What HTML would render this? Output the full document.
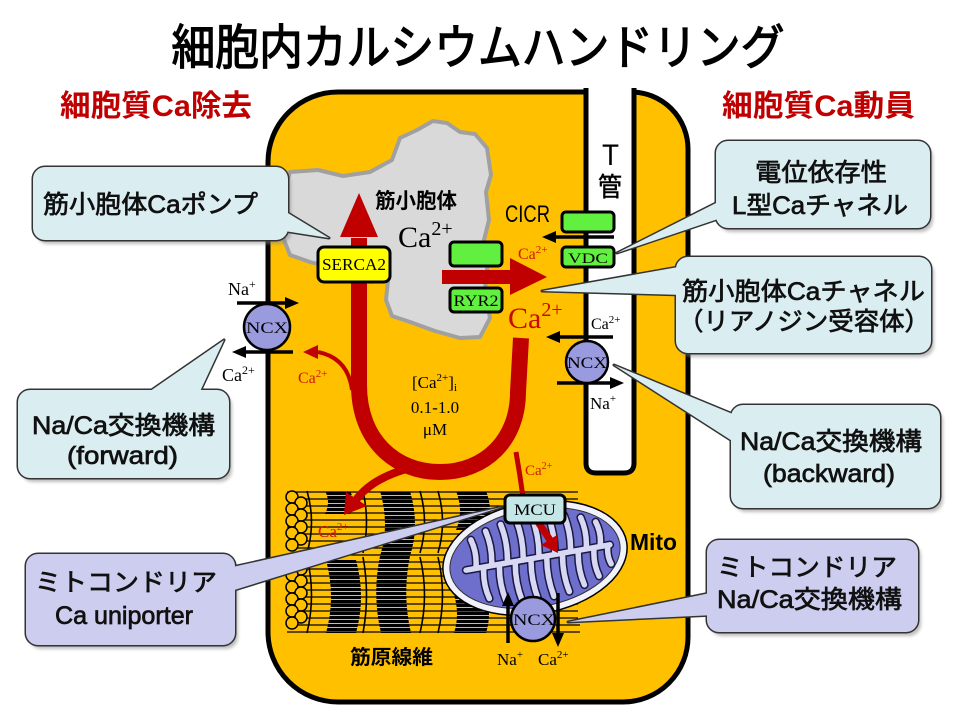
<!DOCTYPE html>
<html><head><meta charset="utf-8"><style>
html,body{margin:0;padding:0;background:#fff;}
svg{display:block;}
.cj{font-family:"Liberation Sans","Noto Sans CJK JP",sans-serif;}
.sf{font-family:"Liberation Serif",serif;}
</style></head><body>
<svg width="960" height="720" viewBox="0 0 960 720" xmlns="http://www.w3.org/2000/svg">
<defs>
<pattern id="st" width="20" height="4" patternUnits="userSpaceOnUse"><rect width="20" height="3" fill="#000"/></pattern>
<filter id="sh" x="-10%" y="-10%" width="130%" height="140%"><feGaussianBlur stdDeviation="1.5"/></filter>
<clipPath id="mc"><ellipse cx="0" cy="0" rx="86" ry="49"/></clipPath>
</defs>
<rect width="960" height="720" fill="#fff"/>

<!-- Title -->
<text x="478" y="64" font-size="48" text-anchor="middle" textLength="613" lengthAdjust="spacingAndGlyphs" class="cj" fill="#000" stroke="#000" stroke-width="1.3">細胞内カルシウムハンドリング</text>
<text x="60" y="116" font-size="30" font-weight="bold" fill="#C00000" class="cj" textLength="192" lengthAdjust="spacingAndGlyphs">細胞質Ca除去</text>
<text x="722" y="116" font-size="30" font-weight="bold" fill="#C00000" class="cj" textLength="193" lengthAdjust="spacingAndGlyphs">細胞質Ca動員</text>

<!-- Cell -->
<path d="M586 92 L338 92 A70 70 0 0 0 268 162 L268 632 A70 70 0 0 0 338 702 L623 702 A65 65 0 0 0 688 637 L688 149 A57 57 0 0 0 631 92 Z" fill="#FFC000" stroke="#000" stroke-width="5"/>
<!-- T tubule -->
<path d="M586 88 L586 463 Q586 473 596 473 L624 473 Q634 473 634 463 L634 88" fill="#fff" stroke="#000" stroke-width="5"/>
<rect x="589" y="80" width="42" height="14" fill="#fff"/>
<text x="602" y="165" font-size="30" class="cj" textLength="17" lengthAdjust="spacingAndGlyphs">T</text>
<text x="598" y="196" font-size="26" class="cj" textLength="24" lengthAdjust="spacingAndGlyphs" stroke="#000" stroke-width="0.5">管</text>

<!-- SR -->
<path d="M290 172 L318 170 L343 176 L370 172 L392 160 L400 138 L417 130 L433 121 L447 123 L460 132 L475 134 L487 148 L491 175 L486 192 L489 220 L484 240 L488 260 L485 290 L490 318 L480 337 L460 338 L435 331 L410 322 L392 316 L386 300 L388 280 L370 282 L340 270 L310 262 L290 255 L284 240 L283 200 L286 185 Z" fill="#D9D9D9" stroke="#A0A0A0" stroke-width="4" stroke-linejoin="round"/>
<text x="375" y="208" font-size="21" font-weight="bold" class="cj" textLength="82" lengthAdjust="spacingAndGlyphs">筋小胞体</text>
<text x="398" y="247" font-size="30" font-family="Liberation Serif, serif">Ca<tspan font-size="20" dy="-12">2+</tspan></text>

<!-- Myofibrils -->
<g>
<g stroke="#000" stroke-width="1.2">
<line x1="287" y1="492" x2="578" y2="492"/><line x1="287" y1="499" x2="578" y2="499"/><line x1="287" y1="506" x2="578" y2="506"/><line x1="287" y1="513" x2="578" y2="513"/><line x1="287" y1="520" x2="578" y2="520"/><line x1="287" y1="527" x2="578" y2="527"/><line x1="287" y1="534" x2="578" y2="534"/><line x1="287" y1="541" x2="578" y2="541"/><line x1="287" y1="548" x2="578" y2="548"/><line x1="287" y1="555" x2="578" y2="555"/><line x1="287" y1="562" x2="578" y2="562"/><line x1="287" y1="569" x2="578" y2="569"/><line x1="287" y1="576" x2="578" y2="576"/><line x1="287" y1="583" x2="578" y2="583"/><line x1="287" y1="590" x2="578" y2="590"/><line x1="287" y1="597" x2="578" y2="597"/><line x1="287" y1="604" x2="578" y2="604"/><line x1="287" y1="611" x2="578" y2="611"/><line x1="287" y1="618" x2="578" y2="618"/><line x1="287" y1="625" x2="580" y2="625"/><line x1="287" y1="632" x2="580" y2="632"/>
</g>
<g fill="url(#st)">
<path d="M325 491 L350 491 Q356 502 350 514 L325 514 Q331 502 325 491Z"/>
<path d="M380 491 L410 491 Q420 525 410 556 Q402 595 411 633 L381 633 Q372 595 380 556 Q390 525 380 491Z"/>
<path d="M456 491 L486 491 Q494 511 486 530 L456 530 Q464 511 456 491Z"/>
<path d="M326 560 L356 560 Q366 597 356 633 L326 633 Q336 597 326 560Z"/>
<path d="M454 595 L486 595 Q492 614 486 633 L454 633 Q460 614 454 595Z"/>
</g>
<g stroke="#000" stroke-width="1.6" fill="none">
<path d="M307 491 Q316 522 307 553"/><path d="M307 557 Q316 595 307 633"/>
<path d="M363 491 Q370 522 363 553"/><path d="M363 557 Q370 595 363 633"/>
<path d="M420 491 Q429 522 420 553"/><path d="M420 557 Q429 595 420 633"/>
<path d="M438 491 Q447 522 438 553"/><path d="M438 557 Q447 595 438 633"/>
</g>
<g fill="#FFC000" stroke="#000" stroke-width="1.5">
<circle cx="292" cy="497" r="6"/><circle cx="301" cy="503" r="6"/><circle cx="292" cy="509" r="6"/><circle cx="301" cy="515" r="6"/><circle cx="292" cy="521" r="6"/><circle cx="301" cy="527" r="6"/><circle cx="292" cy="533" r="6"/><circle cx="301" cy="539" r="6"/><circle cx="292" cy="545" r="6"/>
<circle cx="292" cy="563" r="6"/><circle cx="301" cy="569" r="6"/><circle cx="292" cy="575" r="6"/><circle cx="301" cy="581" r="6"/><circle cx="292" cy="587" r="6"/><circle cx="301" cy="593" r="6"/><circle cx="292" cy="599" r="6"/><circle cx="301" cy="605" r="6"/><circle cx="292" cy="611" r="6"/><circle cx="301" cy="617" r="6"/><circle cx="292" cy="623" r="6"/>
</g>
</g>
<text x="350" y="664" font-size="20" font-weight="bold" class="cj" textLength="83" lengthAdjust="spacingAndGlyphs">筋原線維</text>

<!-- Mitochondrion -->
<g transform="translate(535 558) rotate(-10)">
<ellipse rx="93" ry="56" fill="#F2F2FC" stroke="#000" stroke-width="1.5"/>
<ellipse rx="86" ry="49" fill="#6E6ECC" stroke="#333" stroke-width="1"/>
<g clip-path="url(#mc)" fill="none" stroke-linecap="round">
<path d="M-70 0 L76 0 M-60 0 Q-56 -15 -60 -29 M-44 0 Q-40 -18 -44 -35 M-28 0 Q-24 -20 -28 -39 M-12 0 Q-8 -20 -12 -41 M4 0 Q8 -20 4 -41 M20 0 Q24 -20 20 -40 M36 0 Q40 -18 36 -37 M52 0 Q56 -16 52 -32 M66 0 Q70 -12 66 -25 M-52 0 Q-56 16 -52 32 M-36 0 Q-40 18 -36 37 M-20 0 Q-24 20 -20 40 M-4 0 Q-8 20 -4 41 M12 0 Q8 20 12 41 M28 0 Q24 20 28 39 M44 0 Q40 18 44 35 M60 0 Q56 15 60 29 M74 0 Q71 10 74 19" stroke="#1a1a40" stroke-width="8.5"/>
<path d="M-70 0 L76 0 M-60 0 Q-56 -15 -60 -29 M-44 0 Q-40 -18 -44 -35 M-28 0 Q-24 -20 -28 -39 M-12 0 Q-8 -20 -12 -41 M4 0 Q8 -20 4 -41 M20 0 Q24 -20 20 -40 M36 0 Q40 -18 36 -37 M52 0 Q56 -16 52 -32 M66 0 Q70 -12 66 -25 M-52 0 Q-56 16 -52 32 M-36 0 Q-40 18 -36 37 M-20 0 Q-24 20 -20 40 M-4 0 Q-8 20 -4 41 M12 0 Q8 20 12 41 M28 0 Q24 20 28 39 M44 0 Q40 18 44 35 M60 0 Q56 15 60 29 M74 0 Q71 10 74 19" stroke="#D8D8F4" stroke-width="5.5"/>
</g>
</g>
<text x="630" y="550" font-size="23" font-weight="bold" class="cj" textLength="47" lengthAdjust="spacingAndGlyphs">Mito</text>

<!-- Red arrows -->
<path d="M359 238 L359 385 C359 440 395 472 440 472 C485 472 518 440 518 392 L521 338" stroke="#C00000" stroke-width="16" fill="none"/>
<polygon points="340,237 378,237 359,193" fill="#C00000"/>
<path d="M410 468 Q372 478 356 500" stroke="#C00000" stroke-width="8" fill="none"/>
<polygon points="344,515 346,492 367,506" fill="#C00000"/>
<path d="M352 390 Q348 358 318 352" stroke="#C00000" stroke-width="4" fill="none"/>
<polygon points="303,352 318,345 318,359" fill="#C00000"/>
<rect x="442" y="270" width="70" height="14" fill="#C00000"/>
<polygon points="510,258 547,277 510,295" fill="#C00000"/>
<path d="M516 452 Q520 475 523 497" stroke="#C00000" stroke-width="5" fill="none"/>
<path d="M538 522 L550 540" stroke="#C00000" stroke-width="7" fill="none"/>
<polygon points="558,553 541,545 557,535" fill="#C00000"/>

<!-- MCU -->
<rect x="505" y="495" width="60" height="28" rx="5" fill="#C4E6E6" stroke="#000" stroke-width="3"/>
<text x="535" y="515" font-size="16" font-family="Liberation Serif, serif" text-anchor="middle" textLength="42" lengthAdjust="spacingAndGlyphs">MCU</text>

<!-- SERCA2 -->
<rect x="318" y="247" width="72" height="35" rx="6" fill="#FFFF00" stroke="#000" stroke-width="3"/>
<text x="354" y="270" font-size="17" font-family="Liberation Serif, serif" text-anchor="middle" textLength="64" lengthAdjust="spacingAndGlyphs">SERCA2</text>

<!-- Green boxes -->
<rect x="450" y="242" width="52" height="24" rx="4" fill="#62F040" stroke="#000" stroke-width="3"/>
<rect x="450" y="288" width="52" height="24" rx="4" fill="#62F040" stroke="#000" stroke-width="3"/>
<text x="476" y="306" font-size="16" font-family="Liberation Serif, serif" text-anchor="middle" textLength="45" lengthAdjust="spacingAndGlyphs">RYR2</text>
<rect x="562" y="212" width="52" height="20" rx="4" fill="#62F040" stroke="#000" stroke-width="3"/>
<rect x="562" y="247" width="52" height="20" rx="4" fill="#62F040" stroke="#000" stroke-width="3"/>
<text x="588" y="263" font-size="15" font-family="Liberation Serif, serif" text-anchor="middle" textLength="40" lengthAdjust="spacingAndGlyphs">VDC</text>
<text x="505" y="222" font-size="24" class="cj" textLength="45" lengthAdjust="spacingAndGlyphs">CICR</text>

<!-- Black arrows -->
<g stroke="#000" stroke-width="3.5">
<line x1="614" y1="237" x2="554" y2="237"/>
<line x1="613" y1="337" x2="558" y2="337"/>
<line x1="557" y1="383" x2="612" y2="383"/>
<line x1="237" y1="303" x2="287" y2="303"/>
<line x1="293" y1="352" x2="244" y2="352"/>
<line x1="508" y1="643" x2="508" y2="605"/>
<line x1="558" y1="593" x2="558" y2="634"/>
</g>
<g fill="#000">
<polygon points="542,237 556,231 556,243"/>
<polygon points="546,337 560,331 560,343"/>
<polygon points="624,383 610,377 610,389"/>
<polygon points="299,303 285,297 285,309"/>
<polygon points="232,352 246,346 246,358"/>
<polygon points="508,592 502,606 514,606"/>
<polygon points="558,647 552,633 564,633"/>
</g>

<!-- NCX circles -->
<circle cx="267" cy="327" r="23" fill="#9A9ADE" stroke="#000" stroke-width="2.5"/>
<text x="267" y="333" font-size="16" font-family="Liberation Serif, serif" text-anchor="middle" textLength="42" lengthAdjust="spacingAndGlyphs">NCX</text>
<circle cx="587" cy="362" r="21" fill="#9A9ADE" stroke="#000" stroke-width="2.5"/>
<text x="587" y="368" font-size="16" font-family="Liberation Serif, serif" text-anchor="middle" textLength="40" lengthAdjust="spacingAndGlyphs">NCX</text>
<circle cx="533" cy="619" r="22" fill="#9A9ADE" stroke="#000" stroke-width="2.5"/>
<text x="534" y="625" font-size="16" font-family="Liberation Serif, serif" text-anchor="middle" textLength="42" lengthAdjust="spacingAndGlyphs">NCX</text>

<!-- Labels -->
<g font-family="Liberation Serif, serif">
<text x="228" y="295" font-size="18">Na<tspan font-size="12" dy="-7">+</tspan></text>
<text x="222" y="381" font-size="18">Ca<tspan font-size="12" dy="-7">2+</tspan></text>
<text x="298" y="383" font-size="16" fill="#D01A00">Ca<tspan font-size="11" dy="-6">2+</tspan></text>
<text x="412" y="388" font-size="17">[Ca<tspan font-size="11" dy="-7">2+</tspan><tspan dy="7">]</tspan><tspan font-size="11" dy="3">i</tspan></text>
<text x="435" y="413" font-size="17" text-anchor="middle">0.1-1.0</text>
<text x="435" y="435" font-size="17" text-anchor="middle">μM</text>
<text x="525" y="475" font-size="15" fill="#D01A00">Ca<tspan font-size="10" dy="-6">2+</tspan></text>
<text x="318" y="537" font-size="17" fill="#D01A00">Ca<tspan font-size="11" dy="-7">2+</tspan></text>
<text x="497" y="665" font-size="17">Na<tspan font-size="11" dy="-7">+</tspan></text>
<text x="538" y="665" font-size="17">Ca<tspan font-size="11" dy="-7">2+</tspan></text>
<text x="591" y="329" font-size="16">Ca<tspan font-size="11" dy="-6">2+</tspan></text>
<text x="590" y="409" font-size="17">Na<tspan font-size="11" dy="-7">+</tspan></text>
<text x="518" y="259" font-size="16" fill="#D01A00">Ca<tspan font-size="11" dy="-6">2+</tspan></text>
<text x="508" y="328" font-size="30" fill="#C80A00">Ca<tspan font-size="20" dy="-12">2+</tspan></text>
</g>

<!-- Callouts -->
<g class="cj" font-size="25" fill="#111">
<!-- C1 -->
<g>
<g transform="translate(3 4)" fill="#888" opacity="0.55" filter="url(#sh)"><rect x="33" y="167" width="255" height="73" rx="12"/></g>
<rect x="33" y="167" width="255" height="73" rx="12" fill="none" stroke="#333" stroke-width="3"/>
<polygon points="278,207 329,238 278,230" fill="none" stroke="#333" stroke-width="3" stroke-linejoin="round"/>
<rect x="33" y="167" width="255" height="73" rx="12" fill="#DAEDF1"/>
<polygon points="278,207 329,238 278,230" fill="#DAEDF1"/>
<text x="43" y="213" textLength="215" lengthAdjust="spacingAndGlyphs" stroke="#111" stroke-width="0.7">筋小胞体Caポンプ</text>
</g>
<!-- C2 -->
<g>
<g transform="translate(3 4)" fill="#888" opacity="0.55" filter="url(#sh)"><rect x="18" y="390" width="211" height="88" rx="12"/></g>
<rect x="18" y="390" width="211" height="88" rx="12" fill="none" stroke="#333" stroke-width="3"/>
<polygon points="140,398 224,340 197,398" fill="none" stroke="#333" stroke-width="3" stroke-linejoin="round"/>
<rect x="18" y="390" width="211" height="88" rx="12" fill="#DAEDF1"/>
<polygon points="140,398 224,340 197,398" fill="#DAEDF1"/>
<text x="32" y="434" textLength="183" lengthAdjust="spacingAndGlyphs" stroke="#111" stroke-width="0.7">Na/Ca交換機構</text>
<text x="67" y="464" textLength="111" lengthAdjust="spacingAndGlyphs" stroke="#111" stroke-width="0.7">(forward)</text>
</g>
<!-- C3 -->
<g>
<g transform="translate(3 4)" fill="#888" opacity="0.55" filter="url(#sh)"><rect x="26" y="554" width="209" height="91" rx="12"/></g>
<rect x="26" y="554" width="209" height="91" rx="12" fill="none" stroke="#333" stroke-width="3"/>
<polygon points="228,568 502,507 228,592" fill="none" stroke="#333" stroke-width="3" stroke-linejoin="round"/>
<rect x="26" y="554" width="209" height="91" rx="12" fill="#CDCDF0"/>
<polygon points="228,568 502,507 228,592" fill="#CDCDF0"/>
<text x="35" y="591" textLength="182" lengthAdjust="spacingAndGlyphs" stroke="#111" stroke-width="0.7">ミトコンドリア</text>
<text x="55" y="624" textLength="138" lengthAdjust="spacingAndGlyphs" stroke="#111" stroke-width="0.7">Ca uniporter</text>
</g>
<!-- C4 -->
<g>
<g transform="translate(3 4)" fill="#888" opacity="0.55" filter="url(#sh)"><rect x="716" y="141" width="214" height="87" rx="12"/></g>
<rect x="716" y="141" width="214" height="87" rx="12" fill="none" stroke="#333" stroke-width="3"/>
<polygon points="724,199 617,253 724,217" fill="none" stroke="#333" stroke-width="3" stroke-linejoin="round"/>
<rect x="716" y="141" width="214" height="87" rx="12" fill="#DAEDF1"/>
<polygon points="724,199 617,253 724,217" fill="#DAEDF1"/>
<text x="755" y="181" textLength="132" lengthAdjust="spacingAndGlyphs" stroke="#111" stroke-width="0.7">電位依存性</text>
<text x="732" y="214" textLength="176" lengthAdjust="spacingAndGlyphs" stroke="#111" stroke-width="0.7">L型Caチャネル</text>
</g>
<!-- C5 -->
<g>
<g transform="translate(3 4)" fill="#888" opacity="0.55" filter="url(#sh)"><rect x="676" y="257" width="255" height="96" rx="12"/></g>
<rect x="676" y="257" width="255" height="96" rx="12" fill="none" stroke="#333" stroke-width="3"/>
<polygon points="684,266 542,291 684,295" fill="none" stroke="#333" stroke-width="3" stroke-linejoin="round"/>
<rect x="676" y="257" width="255" height="96" rx="12" fill="#DAEDF1"/>
<polygon points="684,266 542,291 684,295" fill="#DAEDF1"/>
<text x="682" y="300" textLength="243" lengthAdjust="spacingAndGlyphs" stroke="#111" stroke-width="0.7">筋小胞体Caチャネル</text>
<text x="678" y="330" textLength="252" lengthAdjust="spacingAndGlyphs" stroke="#111" stroke-width="0.7">（リアノジン受容体）</text>
</g>
<!-- C6 -->
<g>
<g transform="translate(3 4)" fill="#888" opacity="0.55" filter="url(#sh)"><rect x="731" y="405" width="209" height="103" rx="12"/></g>
<rect x="731" y="405" width="209" height="103" rx="12" fill="none" stroke="#333" stroke-width="3"/>
<polygon points="740,417 614,365 740,446" fill="none" stroke="#333" stroke-width="3" stroke-linejoin="round"/>
<rect x="731" y="405" width="209" height="103" rx="12" fill="#DAEDF1"/>
<polygon points="740,417 614,365 740,446" fill="#DAEDF1"/>
<text x="740" y="450" textLength="182" lengthAdjust="spacingAndGlyphs" stroke="#111" stroke-width="0.7">Na/Ca交換機構</text>
<text x="763" y="482" textLength="132" lengthAdjust="spacingAndGlyphs" stroke="#111" stroke-width="0.7">(backward)</text>
</g>
<!-- C7 -->
<g>
<g transform="translate(3 4)" fill="#888" opacity="0.55" filter="url(#sh)"><rect x="707" y="540" width="211" height="92" rx="12"/></g>
<rect x="707" y="540" width="211" height="92" rx="12" fill="none" stroke="#333" stroke-width="3"/>
<polygon points="715,592 568,622 715,615" fill="none" stroke="#333" stroke-width="3" stroke-linejoin="round"/>
<rect x="707" y="540" width="211" height="92" rx="12" fill="#CDCDF0"/>
<polygon points="715,592 568,622 715,615" fill="#CDCDF0"/>
<text x="717" y="576" textLength="180" lengthAdjust="spacingAndGlyphs" stroke="#111" stroke-width="0.7">ミトコンドリア</text>
<text x="717" y="608" textLength="185" lengthAdjust="spacingAndGlyphs" stroke="#111" stroke-width="0.7">Na/Ca交換機構</text>
</g>
</g>
</svg>
</body></html>
